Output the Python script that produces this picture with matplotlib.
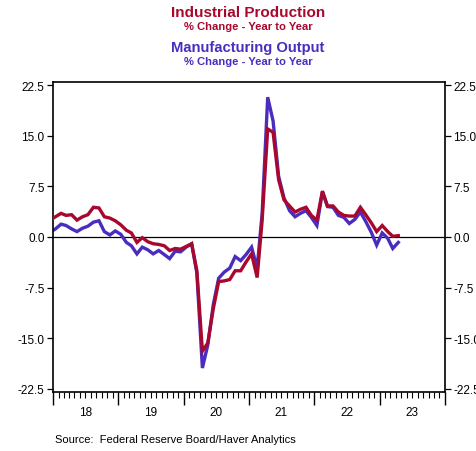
import numpy as np
import pandas as pd
import matplotlib
matplotlib.use("Agg")
import matplotlib.pyplot as plt
import matplotlib.dates as mdates
from matplotlib.ticker import FixedLocator, FuncFormatter, NullFormatter

plt.rcParams['font.family'] = ['Liberation Sans', 'DejaVu Sans']

start_month = "2017-12"
# Industrial Production, % change y/y
ip = [2.5,
      3.0, 3.5, 3.2, 3.3, 2.5, 3.0, 3.3, 4.4, 4.3, 3.0, 2.8, 2.4,
      1.8, 1.0, 0.6, -0.8, -0.1, -0.7, -1.0, -1.1, -1.3, -2.0, -1.7, -1.8,
      -1.4, -1.0, -5.0, -16.9, -15.7, -10.6, -6.6, -6.5, -6.3, -5.0, -5.0, -3.7,
      -2.5, -6.0, 2.5, 16.0, 15.5, 8.5, 5.5, 4.6, 3.7, 4.1, 4.4, 3.2,
      2.5, 6.8, 4.6, 4.6, 3.7, 3.2, 3.1, 3.1, 4.4, 3.3, 2.1, 0.8,
      1.7, 0.8, 0.1, 0.2]
# Manufacturing Output, % change y/y
mfg = [0.7,
       1.2, 1.9, 1.7, 1.2, 0.8, 1.3, 1.6, 2.2, 2.4, 0.8, 0.3, 0.9,
       0.4, -0.8, -1.3, -2.5, -1.5, -1.9, -2.5, -2.0, -2.6, -3.2, -2.1, -2.2,
       -1.5, -1.0, -5.3, -19.4, -16.0, -10.0, -6.1, -5.2, -4.6, -2.9, -3.5, -2.6,
       -1.5, -4.6, 3.5, 20.7, 17.2, 9.0, 5.8, 3.9, 3.0, 3.5, 3.9, 2.9,
       1.7, 6.7, 4.5, 4.4, 3.2, 2.9, 2.0, 2.6, 3.7, 2.3, 0.7, -1.2,
       0.6, -0.2, -1.7, -0.8]
yticks = [22.5, 15.0, 7.5, 0.0, -7.5, -15.0, -22.5]

dates = pd.date_range(start_month, periods=len(ip), freq="MS") + pd.Timedelta(days=14)

RED = "#A8072E"
BLUE = "#4A2DBE"

fig = plt.figure(figsize=(4.77, 4.52), dpi=100)
ax = fig.add_axes([53/477, 1-393/452, (445-53)/477, (393-83)/452])

ax.axhline(0, color="black", lw=0.9, zorder=1)
ax.plot(dates, mfg, color=BLUE, lw=2.4, solid_joinstyle="miter", zorder=2)
ax.plot(dates, ip, color=RED, lw=2.4, solid_joinstyle="miter", zorder=3)

ax.set_xlim(pd.Timestamp("2018-01-01"), pd.Timestamp("2024-01-01"))
ax.set_ylim(-22.95, 22.95)

ax.xaxis.set_major_locator(mdates.YearLocator())
ax.xaxis.set_major_formatter(NullFormatter())
ax.xaxis.set_minor_locator(mdates.MonthLocator())

def minor_fmt(x, pos):
    d = mdates.num2date(x)
    return d.strftime("%y") if d.month == 7 else ""

ax.xaxis.set_minor_formatter(FuncFormatter(minor_fmt))
ax.tick_params(axis="x", which="major", direction="out", length=9, width=1.0)
ax.tick_params(axis="x", which="minor", direction="out", length=4, width=0.8,
               labelsize=8.5, pad=6)

ax.yaxis.set_major_locator(FixedLocator(yticks))
ax.yaxis.set_major_formatter(FuncFormatter(lambda v, p: f"{v:.1f}"))
ax.tick_params(axis="y", which="major", direction="out", length=4, width=0.9,
               labelsize=8.5, left=True, right=True, labelleft=True, labelright=True, pad=2)

for s in ax.spines.values():
    s.set_linewidth(1.2)
    s.set_color("black")

fig.text(0.52, 1-13/452, "Industrial Production", color=RED, fontsize=11,
         fontweight="bold", ha="center", va="center")
fig.text(0.52, 1-27/452, "% Change - Year to Year", color=RED, fontsize=8.1,
         fontweight="bold", ha="center", va="center")
fig.text(0.52, 1-48/452, "Manufacturing Output", color=BLUE, fontsize=10.6,
         fontweight="bold", ha="center", va="center")
fig.text(0.52, 1-62/452, "% Change - Year to Year", color=BLUE, fontsize=8.1,
         fontweight="bold", ha="center", va="center")
fig.text(55/477, 1-440/452, "Source:  Federal Reserve Board/Haver Analytics",
         fontsize=8, ha="left", va="center", color="black")

fig.savefig("out.png", dpi=100)
